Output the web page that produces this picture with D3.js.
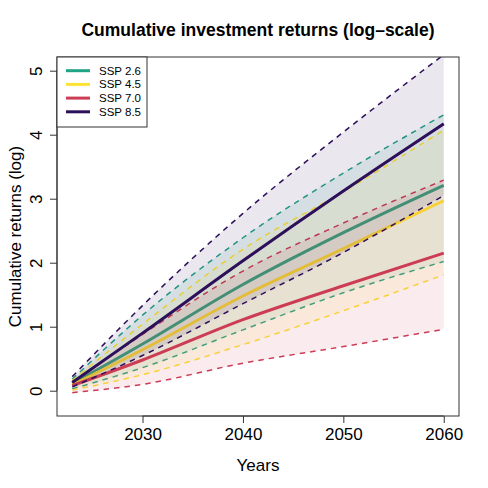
<!DOCTYPE html>
<html>
<head>
<meta charset="utf-8">
<script src="https://cdn.jsdelivr.net/npm/d3@7"></script>
<style>
  body { margin: 0; background: #fff; }
  svg { font-family: "Liberation Sans", Arial, Helvetica, sans-serif; }
</style>
</head>
<body>
<div id="chart"></div>
<script>
// years
const years = [2023, 2030, 2040, 2050, 2060];

const scenarios = ['SSP 2.6', 'SSP 4.5', 'SSP 7.0', 'SSP 8.5'];
const colors = ['#21A386', '#FDE333', '#CC3D55', '#2D0F5A'];

// median, lower and upper bounds per scenario (log cumulative returns)
const median = [
  [0.11, 0.73, 1.66, 2.47, 3.21],
  [0.09, 0.64, 1.48, 2.22, 2.97],
  [0.08, 0.48, 1.11, 1.64, 2.15],
  [0.13, 0.90, 2.03, 3.12, 4.17]
];
const lower = [
  [0.03, 0.36, 0.95, 1.53, 2.02],
  [0.01, 0.25, 0.72, 1.25, 1.81],
  [-0.03, 0.10, 0.43, 0.69, 0.96],
  [0.06, 0.55, 1.36, 2.16, 3.05]
];
const upper = [
  [0.18, 1.18, 2.39, 3.40, 4.31],
  [0.16, 1.04, 2.21, 3.11, 4.07],
  [0.13, 0.88, 1.87, 2.62, 3.29],
  [0.22, 1.33, 2.77, 4.04, 5.25]
];

const xTicks = [2030, 2040, 2050, 2060];
const yTicks = [0, 1, 2, 3, 4, 5];

const width = 488, height = 488;
const margin = { top: 57, right: 29, bottom: 72, left: 57 };
const x0 = margin.left, x1 = width - margin.right;
const y0 = height - margin.bottom, y1 = margin.top;

// R style 4% padding around data range
const x = d3.scaleLinear().domain([2021.48, 2061.52]).range([x0, x1]);
const y = d3.scaleLinear().domain([-0.395, 5.214]).range([y0, y1]);

const svg = d3.select('#chart').append('svg')
    .attr('width', width)
    .attr('height', height);

svg.append('defs').append('clipPath').attr('id', 'plotclip')
  .append('rect')
    .attr('x', x0).attr('y', y1)
    .attr('width', x1 - x0).attr('height', y0 - y1);

const plot = svg.append('g').attr('clip-path', 'url(#plotclip)');

const line = d3.line()
    .x((d, i) => x(years[i]))
    .y(d => y(d))
    .curve(d3.curveMonotoneX);

const area = d3.area()
    .x((d, i) => x(years[i]))
    .y0((d, i) => y(d[0]))
    .y1((d, i) => y(d[1]))
    .curve(d3.curveMonotoneX);

scenarios.forEach((s, k) => {
  const band = years.map((yr, i) => [lower[k][i], upper[k][i]]);
  plot.append('path')
      .attr('d', area(band))
      .attr('fill', colors[k])
      .attr('fill-opacity', 0.1);

  [lower[k], upper[k]].forEach(vals => {
    plot.append('path')
        .attr('d', line(vals))
        .attr('fill', 'none')
        .attr('stroke', colors[k])
        .attr('stroke-width', 1.5)
        .attr('stroke-dasharray', '5.5,5');
  });

  plot.append('path')
      .attr('d', line(median[k]))
      .attr('fill', 'none')
      .attr('stroke', colors[k])
      .attr('stroke-width', 3);
});

// box
svg.append('rect')
    .attr('x', x0).attr('y', y1)
    .attr('width', x1 - x0).attr('height', y0 - y1)
    .attr('fill', 'none')
    .attr('stroke', '#333')
    .attr('stroke-width', 1);

// x axis
const xAxis = svg.append('g')
    .attr('transform', 'translate(0,' + y0 + ')')
    .call(d3.axisBottom(x).tickValues(xTicks).tickFormat(d3.format('d')).tickSize(7).tickPadding(5));
xAxis.select('.domain')
    .attr('d', 'M' + x(xTicks[0]) + ',0H' + x(xTicks[xTicks.length - 1]));
xAxis.selectAll('text').attr('font-size', 17).attr('fill', '#000');
xAxis.selectAll('line, .domain').attr('stroke', '#333');

// y axis, labels rotated like R
const yAxis = svg.append('g')
    .attr('transform', 'translate(' + x0 + ',0)')
    .call(d3.axisLeft(y).tickValues(yTicks).tickSize(7).tickFormat(d3.format('d')));
yAxis.select('.domain')
    .attr('d', 'M0,' + y(yTicks[0]) + 'V' + y(yTicks[yTicks.length - 1]));
yAxis.selectAll('line, .domain').attr('stroke', '#333');
yAxis.selectAll('text')
    .attr('font-size', 17)
    .attr('fill', '#000')
    .attr('x', 0)
    .attr('dy', 0)
    .attr('text-anchor', 'middle')
    .attr('transform', 'translate(-15,0) rotate(-90)');

// titles
svg.append('text')
    .attr('x', (x0 + x1) / 2).attr('y', 36)
    .attr('text-anchor', 'middle')
    .attr('font-size', 17.5).attr('font-weight', 'bold')
    .text('Cumulative investment returns (log\u2013scale)');

svg.append('text')
    .attr('x', (x0 + x1) / 2).attr('y', 471)
    .attr('text-anchor', 'middle')
    .attr('font-size', 17)
    .text('Years');

svg.append('text')
    .attr('transform', 'translate(21,' + (y0 + y1) / 2 + ') rotate(-90)')
    .attr('text-anchor', 'middle')
    .attr('font-size', 17)
    .text('Cumulative returns (log)');

// legend
const legend = svg.append('g');
legend.append('rect')
    .attr('x', x0).attr('y', y1)
    .attr('width', 90).attr('height', 70)
    .attr('fill', '#fff')
    .attr('stroke', '#333');

scenarios.forEach((s, k) => {
  const ly = 70.7 + k * 13.7;
  legend.append('line')
      .attr('x1', 66).attr('x2', 90)
      .attr('y1', ly).attr('y2', ly)
      .attr('stroke', colors[k])
      .attr('stroke-width', 3);
  legend.append('text')
      .attr('x', 99).attr('y', ly + 4)
      .attr('font-size', 11.5)
      .text(s);
});
</script>
</body>
</html>
